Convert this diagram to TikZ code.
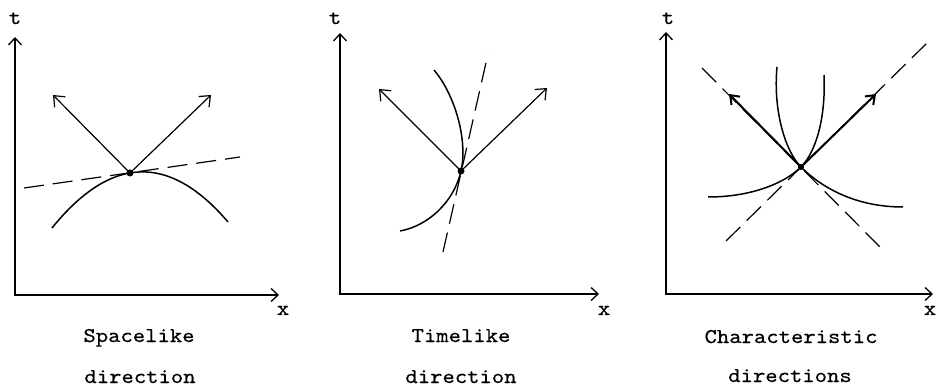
\documentclass[tikz,border=0pt]{standalone}
\usepackage{fontspec}
\setmonofont{lmmono10-regular.otf}[FakeStretch=1.12,FakeBold=0.4]
\usetikzlibrary{arrows.meta}
\begin{document}
\begin{tikzpicture}[x=1pt,y=-1pt,
  axis/.style={line width=1.3pt,{Straight Barb[length=7pt,width=13pt]}-{Straight Barb[length=7pt,width=13pt]}},
  vec/.style={line width=1.2pt,-{Straight Barb[length=9pt,width=15pt]}},
  cvec/.style={line width=2pt,-{Straight Barb[length=8pt,width=12pt]}},
  crv/.style={line width=1.5pt},
  dsh/.style={line width=1.2pt,dash pattern=on 20pt off 9pt},
  lbl/.style={font=\fontsize{21}{24}\selectfont\ttfamily,inner sep=0pt,anchor=base},
  dot/.style={circle,fill,inner sep=0pt,minimum size=7pt}]
\useasboundingbox (0,0) rectangle (937,387);

% ---------- Panel 1: spacelike ----------
\coordinate (o1) at (15,295);
\coordinate (t1) at (15,37);
\coordinate (x1) at (279,295);
\draw[axis] (t1) -- (o1) -- (x1);
\node[lbl] (tl1) at (15,24) {t};
\node[lbl] (xl1) at (283,315) {x};
\coordinate (d1a) at (24,188);
\coordinate (d1b) at (240,157);
\draw[dsh] (d1a) -- (d1b);
\draw[crv] plot[domain=52:228,smooth,samples=40] (\x,{171.9+0.00685*(\x-142.5)^2});
\node[dot] (p1) at (130,173) {};
\coordinate (a1l) at (53,95);
\coordinate (a1r) at (211,95);
\draw[vec] (p1.center) -- (a1l);
\draw[vec] (p1.center) -- (a1r);
\node[lbl] (c1a) at (139,342) {Spacelike};
\node[lbl] (c1b) at (140,383) {direction};

% ---------- Panel 2: timelike ----------
\coordinate (o2) at (340,294);
\coordinate (t2) at (340,33);
\coordinate (x2) at (599,294);
\draw[axis] (t2) -- (o2) -- (x2);
\node[lbl] (tl2) at (335,24) {t};
\node[lbl] (xl2) at (604,315) {x};
\coordinate (d2a) at (443,252);
\coordinate (d2b) at (488,54);
\draw[dsh] (d2a) -- (d2b);
\node[dot] (p2) at (461,171) {};
\draw[crv] (434,70) .. controls (455,95) and (468,140) .. (p2.center)
  .. controls (454,202) and (428,226) .. (400,231);
\coordinate (a2l) at (379,89);
\coordinate (a2r) at (547,88);
\draw[vec] (p2.center) -- (a2l);
\draw[vec] (p2.center) -- (a2r);
\node[lbl] (c2a) at (461,342) {Timelike};
\node[lbl] (c2b) at (461,383) {direction};

% ---------- Panel 3: characteristic ----------
\coordinate (o3) at (666,294);
\coordinate (t3) at (666,32);
\coordinate (x3) at (933,294);
\draw[axis] (t3) -- (o3) -- (x3);
\node[lbl] (tl3) at (668,24) {t};
\node[lbl] (xl3) at (930,315) {x};
\coordinate (d3a) at (726,241);
\coordinate (d3b) at (928,42);
\coordinate (d3c) at (702,68);
\coordinate (d3d) at (880,247);
\draw[dsh] (d3a) -- (d3b);
\draw[dsh] (d3c) -- (d3d);
\node[dot,minimum size=6pt] (p3) at (801,167) {};
\draw[crv] (777,67) .. controls (773,110) and (785,151) .. (p3.center)
  .. controls (817,183) and (850,207) .. (903,207);
\draw[crv] (824,75) .. controls (826,120) and (815,153) .. (p3.center)
  .. controls (787,181) and (755,197) .. (708,197);
\coordinate (a3l) at (729,94);
\coordinate (a3r) at (876,94);
\draw[cvec] (p3.center) -- (a3l);
\draw[cvec] (p3.center) -- (a3r);
\node[lbl] (c3a) at (791,343) {Characteristic};
\node[lbl] (c3b) at (790,382) {directions};
\end{tikzpicture}
\end{document}
